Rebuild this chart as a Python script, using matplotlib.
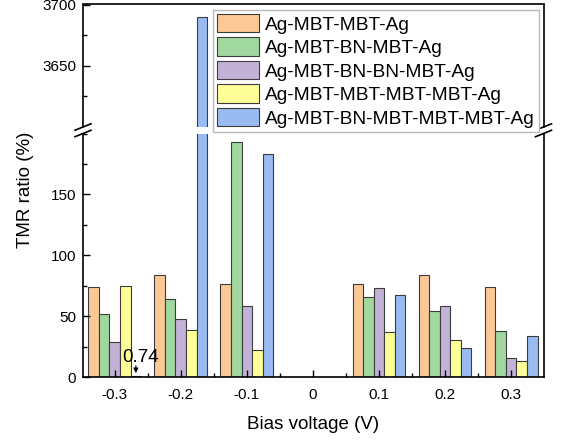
import matplotlib
matplotlib.use('Agg')
from matplotlib import pyplot as plt
import matplotlib.ticker as ticker
from matplotlib.lines import Line2D
import numpy as np

plt.rcParams['font.family'] = ['Liberation Sans', 'DejaVu Sans']

# data
voltages = [-0.3, -0.2, -0.1, 0.0, 0.1, 0.2, 0.3]
tick_labels = ['-0.3', '-0.2', '-0.1', '0', '0.1', '0.2', '0.3']
series_names = ['Ag-MBT-MBT-Ag',
                'Ag-MBT-BN-MBT-Ag',
                'Ag-MBT-BN-BN-MBT-Ag',
                'Ag-MBT-MBT-MBT-MBT-Ag',
                'Ag-MBT-BN-MBT-MBT-MBT-Ag']
mbt_mbt = [74, 83.5, 76.5, 0, 76.5, 83.5, 74]
mbt_bn_mbt = [52, 64, 193, 0, 65.5, 54.5, 38]
mbt_bn_bn_mbt = [28.5, 48, 58.5, 0, 73.5, 58.5, 16]
mbt4 = [74.5, 39, 22, 0, 37, 30, 13]
mbt_bn_mbt3 = [0.74, 3690, 183, 0, 67, 23.5, 33.5]
series = [mbt_mbt, mbt_bn_mbt, mbt_bn_bn_mbt, mbt4, mbt_bn_mbt3]
colors = ['#FCC895', '#A0D8A0', '#C2B2D8', '#FFFF99', '#99BBF2']

W, H = 567, 440
fig = plt.figure(figsize=(W/100, H/100), dpi=100)

x_left, x_right = 83, 543.5
y_top, y_up_bot, y_low_top, y_bot = 4.5, 127, 133.5, 377

def fx(px):
    return px / W

def fy(py):
    return 1 - py / H

ax_up = fig.add_axes([fx(x_left), fy(y_up_bot), fx(x_right) - fx(x_left), fy(y_top) - fy(y_up_bot)])
ax_low = fig.add_axes([fx(x_left), fy(y_bot), fx(x_right) - fx(x_left), fy(y_low_top) - fy(y_bot)])

x = np.array(voltages)
w = 0.016
bars = []
for i, vals in enumerate(series):
    for ax in (ax_up, ax_low):
        b = ax.bar(x + (i - 2) * w, vals, width=w, color=colors[i],
                   edgecolor='#3c3c3c', linewidth=0.8, label=series_names[i])
    bars.append(b)

ax_low.set_ylim(0, 200)
ax_up.set_ylim(3600, 3700)
for ax in (ax_up, ax_low):
    ax.set_xlim(-0.348, 0.349)
    for s in ax.spines.values():
        s.set_linewidth(1.2)
    ax.tick_params(which='both', direction='in', labelsize=11, width=1.0)
    ax.tick_params(which='major', length=5)
    ax.tick_params(which='minor', length=3)

ax_up.spines['bottom'].set_visible(False)
ax_low.spines['top'].set_visible(False)
ax_up.tick_params(which='both', bottom=False, labelbottom=False)
ax_up.set_yticks([3650, 3700])
ax_up.yaxis.set_minor_locator(ticker.FixedLocator([3625, 3675]))

ax_low.set_yticks([0, 50, 100, 150])
ax_low.yaxis.set_minor_locator(ticker.MultipleLocator(25))
ax_low.set_xticks(voltages)
ax_low.set_xticklabels(tick_labels)
ax_low.xaxis.set_minor_locator(ticker.MultipleLocator(0.05))
ax_low.tick_params(axis='x', pad=8)
ax_low.tick_params(axis='y', pad=5)
ax_up.tick_params(axis='y', pad=5)

ax_low.set_xlabel('Bias voltage (V)', fontsize=13.5, labelpad=10)
fig.text(fx(25), fy(190), 'TMR ratio (%)', rotation=90, fontsize=13.5,
         ha='center', va='center')

# small value annotation
xb = voltages[0] + 2 * w
ax_low.annotate('', xy=(xb, 0.9), xytext=(xb, 11.5),
                arrowprops=dict(arrowstyle='-|>', lw=0.8, color='black', mutation_scale=7))
ax_low.text(-0.289, 12.5, '0.74', fontsize=13.5, ha='left', va='baseline')

# axis break marks
for xp in (x_left, x_right):
    for yp in (y_up_bot, y_low_top):
        fig.add_artist(Line2D([fx(xp - 8), fx(xp + 8)], [fy(yp + 3.2), fy(yp - 3.2)],
                              color='black', lw=1.2))

fig.legend(bars, series_names, loc='upper right',
           bbox_to_anchor=(fx(539), fy(10)), bbox_transform=fig.transFigure,
           borderaxespad=0, fontsize=13.8, handlelength=2.22, handleheight=1.1,
           labelspacing=0.2, handletextpad=0.33, borderpad=0.2,
           fancybox=False, framealpha=1, edgecolor='#b8b8b8')

plt.savefig('out.png', dpi=100)
